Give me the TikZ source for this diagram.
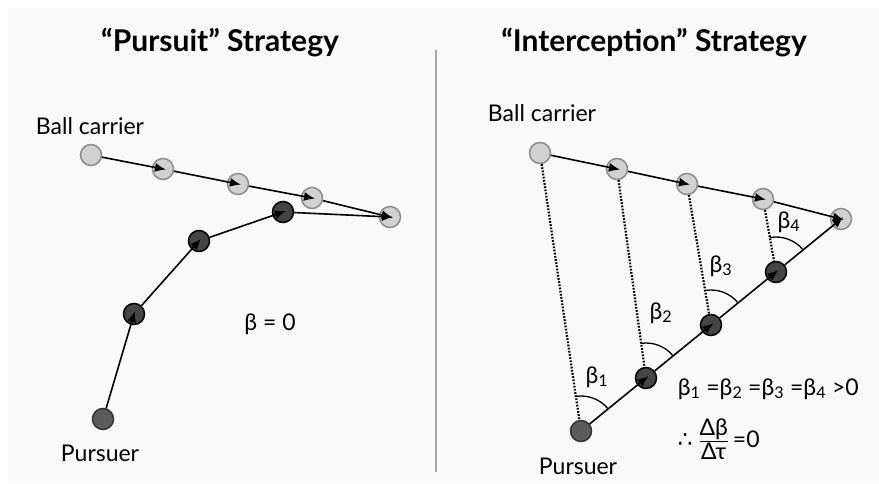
\documentclass[tikz,border=0pt]{standalone}
\usepackage{amsmath}
\usepackage{fontspec}
\setmainfont{Lato}
\newfontfamily\symfont{DejaVu Sans}
\usetikzlibrary{arrows.meta,angles}
\definecolor{panelgray}{RGB}{249,249,249}

\begin{document}
\begin{tikzpicture}[x=1pt, y=-1pt, font=\fontsize{23}{27}\selectfont, line width=1.6pt, >={Latex[length=11pt,width=9pt]},
  ball/.style={circle, minimum size=21pt, inner sep=0pt, fill=black!18, draw=black!45, line width=1.5pt},
  chaser/.style={circle, minimum size=21pt, inner sep=0pt, fill=black!73, draw=black, line width=1.5pt},
  chasestart/.style={chaser, fill=black!64, draw=black!80},
  move/.style={->, shorten >=-3pt},
  sight/.style={line width=2.2pt, dash pattern=on 1.7pt off 1.5pt},
  betaarc/.style={draw, line width=1.3pt, angle radius=35pt},
  heading/.style={font=\fontsize{30}{34}\selectfont\bfseries, anchor=base}]
  \useasboundingbox (0,0) rectangle (879,483);
  \fill[panelgray] (8,8) rectangle (879,483);
  \coordinate (divtop) at (436,50);
  \coordinate (divbot) at (436,472);
  \draw[black!35, line width=2pt] (divtop) -- (divbot);

  % pursuit
  \node[heading] (ptitle) at (220,51) {“Pursuit” Strategy};
  \node[anchor=base] (pcarrier) at (90,134) {Ball carrier};
  \node[anchor=base] (ppursuer) at (100,461) {Pursuer};
  \node[anchor=base] (pbeta) at (270,330) {β = 0};
  \node[ball] (cb0) at (91,155) {};
  \node[ball] (cb1) at (163,169) {};
  \node[ball] (cb2) at (238,184) {};
  \node[ball] (cb3) at (312,198) {};
  \node[ball] (cb4) at (390,217) {};
  \node[chasestart] (cp0) at (103,419) {};
  \node[chaser] (cp1) at (134,314) {};
  \node[chaser] (cp2) at (199,241) {};
  \node[chaser] (cp3) at (283,212) {};
  \draw[move] (cb0) -- (cb1.center);
  \draw[move] (cb1) -- (cb2.center);
  \draw[move] (cb2) -- (cb3.center);
  \draw[move] (cb3) -- (cb4.center);
  \draw[move] (cp0) -- (cp1.center);
  \draw[move] (cp1) -- (cp2.center);
  \draw[move] (cp2) -- (cp3.center);
  \draw[move] (cp3) -- (cb4.center);

  % interception
  \node[heading] (ititle) at (654,51) {“Interception” Strategy};
  \node[anchor=base] (icarrier) at (542,121) {Ball carrier};
  \node[anchor=base] (ipursuer) at (578,474) {Pursuer};
  \node[ball] (ib0) at (540,153) {};
  \node[ball] (ib1) at (617,169) {};
  \node[ball] (ib2) at (687,184) {};
  \node[ball] (ib3) at (763,199) {};
  \node[ball] (ib4) at (841,219) {};
  \node[chasestart] (ip0) at (581,431) {};
  \node[chaser] (ip1) at (646,378) {};
  \node[chaser] (ip2) at (711,325) {};
  \node[chaser] (ip3) at (776,272) {};
  \draw[sight] (ib0) -- (ip0);
  \draw[sight] (ib1) -- (ip1);
  \draw[sight] (ib2) -- (ip2);
  \draw[sight] (ib3) -- (ip3);
  \draw[move] (ib0) -- (ib1.center);
  \draw[move] (ib1) -- (ib2.center);
  \draw[move] (ib2) -- (ib3.center);
  \draw[move] (ib3) -- (ib4.center);
  \draw[move] (ip0) -- (ip1.center);
  \draw[move] (ip1) -- (ip2.center);
  \draw[move] (ip2) -- (ip3.center);
  \draw[move] (ip3) -- (ib4.center);
  \pic[betaarc] {angle=ib4--ip0--ib0};
  \pic[betaarc] {angle=ib4--ip1--ib1};
  \pic[betaarc] {angle=ib4--ip2--ib2};
  \pic[betaarc] {angle=ib4--ip3--ib3};
  \node (beta1) at (597,377) {β\textsubscript{1}};
  \node (beta2) at (661,313) {β\textsubscript{2}};
  \node (beta3) at (721,266) {β\textsubscript{3}};
  \node (beta4) at (789,222) {β\textsubscript{4}};
  \node[anchor=base west, inner sep=0pt] (equal) at (677,395) {β\textsubscript{1} =β\textsubscript{2} =β\textsubscript{3} =β\textsubscript{4} >0};
  \node[anchor=west, inner sep=0pt] (rate) at (677,439) {{\symfont ∴}\ $\genfrac{}{}{1.2pt}{}{\hbox{Δβ}}{\hbox{Δτ}}$\,=0};
\end{tikzpicture}
\end{document}
